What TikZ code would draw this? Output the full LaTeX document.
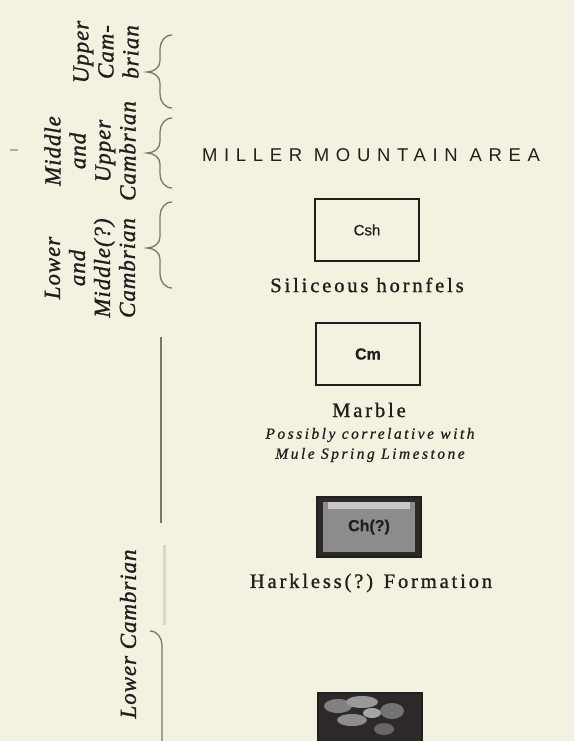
\documentclass[tikz,border=0pt]{standalone}
\usepackage{fontspec}
\usepackage{xcolor}
\usetikzlibrary{positioning}
\newfontfamily\areafont[LetterSpace=36]{Liberation Sans}
\newfontfamily\symfont[FakeBold=0.6]{Liberation Sans}
\newfontfamily\agefont[LetterSpace=4,FakeBold=1.2]{Liberation Serif}
\newfontfamily\namefont[LetterSpace=14,FakeBold=1.2]{Liberation Serif}
\newfontfamily\notefont[LetterSpace=16,FakeBold=0.8]{Liberation Serif}
\definecolor{paper}{RGB}{244,241,224}
\definecolor{ink}{RGB}{34,30,30}
\definecolor{bracegray}{RGB}{120,118,110}
\tikzset{
  agelabel/.style={rotate=90, align=center, text=ink,
    font=\agefont\fontsize{23}{25}\selectfont\itshape},
  areatitle/.style={text=ink, font=\areafont\fontsize{18.5}{20}\selectfont},
  unitbox/.style={draw=ink, line width=1.4pt, minimum width=104pt,
    minimum height=62pt, inner sep=0pt, text=ink,
    font=\symfont\fontsize{15}{16}\selectfont},
  darkbox/.style={draw=ink, fill=ink!95, line width=1.4pt,
    minimum width=104pt, minimum height=60pt, inner sep=0pt},
  unitname/.style={text=ink, font=\namefont\fontsize{20.5}{22}\selectfont},
  unitnote/.style={align=center, text=ink,
    font=\notefont\fontsize{15.5}{20}\selectfont\itshape},
  agebrace/.style={draw=bracegray, line width=1.3pt},
}
% one curly bracket: top y, tip y, bottom y
\newcommand{\agebracket}[3]{%
  \draw[agebrace] (172,#1) to[out=180,in=90] (160,#1+14) -- (160,#2-11)
    to[out=-90,in=0] (147,#2) to[out=0,in=90] (160,#2+11)
    -- (160,#3-14) to[out=-90,in=180] (172,#3);}

\begin{document}
\begin{tikzpicture}[x=1pt,y=-1pt]
  \fill[paper] (0,0) rectangle (574,741);
  \useasboundingbox (0,0) rectangle (574,741);
  \clip (0,0) rectangle (574,741);

  % ages, left column
  \node[agelabel] (upper)  at (106,52)  {Upper\\Cam-\\brian};
  \node[agelabel] (midup)  at (90,151)  {Middle\\and\\Upper\\Cambrian};
  \node[agelabel] (lowmid) at (90,268)  {Lower\\and\\Middle(?)\\Cambrian};
  \node[agelabel] (lowcam) at (128,634) {Lower Cambrian};

  \agebracket{35}{72}{108}
  \agebracket{118}{153}{188}
  \agebracket{202}{248}{288}

  \draw[agebrace] (161,337) -- (161,523);
  \draw[bracegray!30, line width=3pt] (164,545) -- (164,625);
  \draw[agebrace] (150,631) to[out=0,in=90] (162,645) -- (162,745);

  \draw[bracegray!60, line width=1.5pt] (10,150) -- (18,150);

  % units
  \node[areatitle] (area) at (371,155) {MILLER MOUNTAIN AREA};

  \node[unitbox] (csh) at (367,230) {Csh};
  \node[unitname] (hornfels) at (367,285) {Siliceous hornfels};

  \node[unitbox, line width=2.4pt] (cm) at (368,354)
    {\bfseries\fontsize{16}{17}\selectfont Cm};
  \node[unitname] (marble) at (369,410) {Marble};
  \node[unitnote] (note) at (370,445)
    {Possibly correlative with\\Mule Spring Limestone};

  \node[darkbox] (ch) at (369,527) {};
  \fill[black!45] ([shift={(7,-6)}]ch.south west) rectangle ([shift={(-7,6)}]ch.north east);
  \fill[black!22] ([shift={(12,6)}]ch.north west) rectangle ([shift={(-12,13)}]ch.north east);
  \node[text=ink, font=\symfont\bfseries\fontsize{16}{17}\selectfont]
    (chtext) at (ch.center) {Ch(?)};
  \node[unitname] (harkless) at (371,583) {Harkless(?) Formation};

  \node[darkbox] (base) at (370,723) {};
  \begin{scope}
    \clip (321,695) rectangle (419,741);
    \fill[black!50] (338,706) ellipse (14pt and 7pt);
    \fill[black!40] (362,702) ellipse (16pt and 6pt);
    \fill[black!55] (392,711) ellipse (12pt and 8pt);
    \fill[black!45] (352,720) ellipse (15pt and 6pt);
    \fill[black!60] (384,729) ellipse (10pt and 6pt);
    \fill[black!35] (372,713) ellipse (9pt and 5pt);
  \end{scope}
\end{tikzpicture}
\end{document}
